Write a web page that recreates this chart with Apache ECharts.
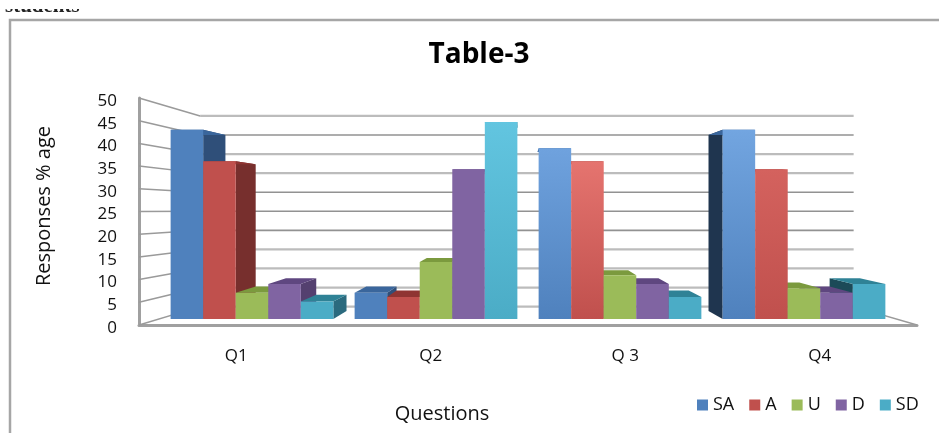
<!DOCTYPE html>
<html><head><meta charset="utf-8">
<style>html,body{margin:0;padding:0;background:#fff}#c{width:939px;height:433px}</style>
<script src="https://cdn.jsdelivr.net/npm/echarts@6/dist/echarts.min.js"></script></head>
<body><div id="c"></div>
<script>
const categories=['Q1','Q2','Q 3','Q4'];
const SA=[43.2,6,39,43.2];
const A=[36,5,36,34.2];
const U=[6,13,10,7];
const D=[8,34.2,8,6];
const SD=[4,45,5,8];
const yTicks=[0,5,10,15,20,25,30,35,40,45,50];
const darkGridTicks=[45,30,25,20];
const seriesNames=['SA','A','U','D','SD'];
const seriesValues=[SA,A,U,D,SD];
const frontColors=['#4f81bd','#c0504d','#9bbb59','#8064a2','#4bacc6'];
const topColors=['#3a669c','#8f3432','#7b9a3e','#5f4780','#2f8296'];
const sideColors=['#2f4f79','#772f2d','#67803a','#54406f','#2b6a7e'];
const darkRightSide=['#1f354f','#772f2d','#67803a','#54406f','#1c4a58'];
const shine=[[0,0,0,0,0],[0,0,0,0,'#62c5e0'],['#6fa2de','#e5746f',0,0,0],['#72a5e0','#d4625e',0,0,0]];
const FONT='"Open Sans",sans-serif';
const chart=echarts.init(document.getElementById('c'),null,{renderer:'canvas'});
const BAR_K=.07,BAR_VX=521,BAR_VY=204,WALL_K=.16,WALL_VX=521,WALL_VY=210,SIDE_MIN=8;
const back=(p,k,vx,vy)=>[p[0]+(vx-p[0])*k,p[1]+(vy-p[1])*k];
const poly=(pts,fill,z2)=>({type:'polygon',z2,shape:{points:pts},style:{fill}});
function barRender(si){return (params,api)=>{
  const cat=api.value(0),val=api.value(1);
  const base=api.coord([cat,0]),top=api.coord([cat,val]);
  const w=api.size([1,0])[0]*.1769;
  const x0=base[0]+(si-2.5)*w,x1=x0+w,yT=top[1],yB=base[1];
  const b=p=>back(p,BAR_K,BAR_VX,BAR_VY);
  const z=Math.round(500-Math.abs((x0+x1)/2-BAR_VX)/2);
  const kids=[];
  if(x1<BAR_VX-SIDE_MIN)kids.push(poly([[x1,yT],b([x1,yT]),b([x1,yB]),[x1,yB]],sideColors[si],z));
  if(x0>BAR_VX+SIDE_MIN*4)kids.push(poly([[x0,yT],b([x0,yT]),b([x0,yB]),[x0,yB]],darkRightSide[si],z));
  kids.push(poly([[x0,yT],[x1,yT],b([x1,yT]),b([x0,yT])],topColors[si],z+1));
  const s=shine[cat][si];
  const fill=s?new echarts.graphic.LinearGradient(0,0,0,1,[{offset:0,color:s},{offset:1,color:frontColors[si]}]):frontColors[si];
  kids.push({type:'rect',z2:1000,shape:{x:x0,y:yT,width:w,height:yB-yT},style:{fill}});
  return {type:'group',children:kids};
};}
function wallRender(params,api){
  const v=api.value(0),cs=params.coordSys;
  const y=api.coord([0,v])[1],xL=cs.x,xR=cs.x+cs.width;
  const b=p=>back(p,WALL_K,WALL_VX,WALL_VY);
  const bL=b([xL,y]),bR=b([xR,y]);
  const line=(a,c,col,w)=>({type:'line',shape:{x1:a[0],y1:a[1],x2:c[0],y2:c[1]},style:{stroke:col,lineWidth:w}});
  const dark=darkGridTicks.includes(v);
  const kids=[line([xL,y],bL,'#9a9a9a',1.5),line(bL,bR,dark?'#929292':'#bcbcbc',dark?1.6:2.2)];
  if(v===0)kids.push(line([xR,y],bR,'#9a9a9a',1.5));
  return {type:'group',children:kids};
}
chart.setOption({
  animation:false,backgroundColor:'#fff',
  title:{text:'Table-3',left:474,top:36,textAlign:'center',textStyle:{fontFamily:FONT,fontWeight:'bold',fontSize:28,color:'#000'}},
  legend:{data:seriesNames.map((name,i)=>({name,itemStyle:{color:frontColors[i]},icon:'rect'})),left:692,top:391,itemWidth:11,itemHeight:11,itemGap:15,textStyle:{fontFamily:FONT,fontSize:18,color:'#111'},selectedMode:false},
  grid:[
    {left:139,top:98,width:778,height:227},
    {left:160,top:100,width:736,height:219}
  ],
  xAxis:[
    {type:'category',gridIndex:0,data:categories,name:'Questions',nameLocation:'middle',nameGap:79,nameTextStyle:{fontFamily:FONT,fontSize:20,color:'#111',padding:[0,172,0,0]},
     axisLine:{lineStyle:{color:'#a0a0a0',width:3}},axisTick:{show:false},axisLabel:{fontFamily:FONT,fontSize:17,color:'#111',margin:23}},
    {type:'category',gridIndex:1,data:categories,show:false}
  ],
  yAxis:[
    {type:'value',gridIndex:0,min:0,max:50,interval:5,name:'Responses % age',nameLocation:'middle',nameGap:85,nameTextStyle:{fontFamily:FONT,fontSize:20,color:'#111',padding:[0,0,0,11]},
     axisLine:{show:true,onZero:false,lineStyle:{color:'#a0a0a0',width:3}},axisTick:{show:false},splitLine:{show:false},axisLabel:{fontFamily:FONT,fontSize:17,color:'#111',margin:22,verticalAlign:'top',lineHeight:6}},
    {type:'value',gridIndex:1,min:0,max:50,show:false,splitLine:{show:false}}
  ],
  series:[
    {type:'custom',name:'walls',xAxisIndex:0,yAxisIndex:0,z:1,silent:true,clip:false,renderItem:wallRender,data:yTicks.map(v=>[v]),encode:{y:0}},
    ...seriesNames.map((name,si)=>({type:'custom',name,xAxisIndex:1,yAxisIndex:1,z:3,clip:false,renderItem:barRender(si),
      data:seriesValues[si].map((v,c)=>[c,v]),encode:{x:0,y:1},itemStyle:{color:frontColors[si]}}))
  ],
  graphic:[
    {type:'text',left:5,top:-4,z:1,style:{text:'students',fontFamily:'"Liberation Serif",serif',fontWeight:'bold',fontSize:21,fill:'#222'}},
    {type:'rect',left:0,top:0,z:2,shape:{width:120,height:9},style:{fill:'#fff'}},
    {type:'rect',left:0,top:15,z:2,shape:{width:120,height:4},style:{fill:'#fff'}},
    {type:'polyline',z:2,shape:{points:[[10,433],[10,20],[939,20]]},style:{stroke:'#a6a6a6',lineWidth:2.5,fill:null}}
  ]
});
</script></body></html>
